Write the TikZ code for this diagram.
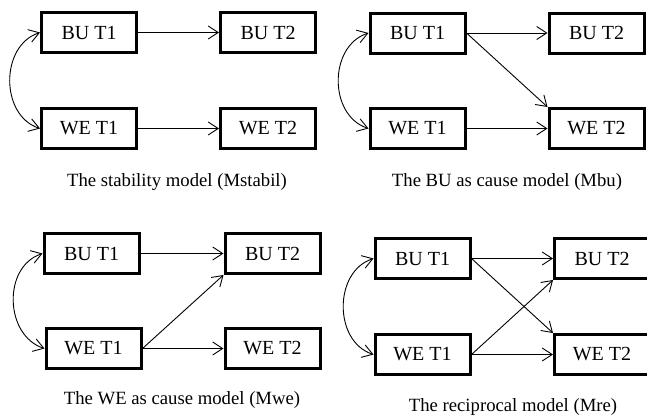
\documentclass[tikz,border=0pt]{standalone}
\usepackage{fontspec}
\setmainfont{Liberation Serif}
\usetikzlibrary{arrows.meta}
\begin{document}
\begin{tikzpicture}[x=1pt,y=-1pt,
  box/.style={draw,line width=3pt,minimum width=95pt,minimum height=40pt,inner sep=0pt,font=\fontsize{20}{22}\selectfont},
  captext/.style={font=\fontsize{18.7}{21}\selectfont,inner sep=0pt},
  arr/.style={line width=0.9pt,-{Straight Barb[length=10pt,width=13pt,line width=0.9pt]}},
  dbl/.style={line width=0.9pt,{Straight Barb[length=10pt,width=13pt,line width=0.9pt]}-{Straight Barb[length=10pt,width=13pt,line width=0.9pt]}}]
\useasboundingbox (0,0) rectangle (647,415);
\clip (0,0) rectangle (647,415);
% Panel 1
\node[box] (a1) at (89,32.5) {BU T1};
\node[box] (a2) at (268,32.5) {BU T2};
\node[box] (a3) at (89,128.5) {WE T1};
\node[box] (a4) at (268,128.5) {WE T2};
\node[captext] (ac) at (177,182) {The stability model (Mstabil)};
\draw[arr] (a1) -- (a2);
\draw[arr] (a3) -- (a4);
\draw[dbl] (a1.west) .. controls +(-40,13) and +(-40,-13) .. (a3.west);
% Panel 2
\node[box] (b1) at (417.5,33) {BU T1};
\node[box] (b2) at (596.5,33) {BU T2};
\node[box] (b3) at (417.5,128.5) {WE T1};
\node[box] (b4) at (596.5,128.5) {WE T2};
\node[captext] (bc) at (507,182) {The BU as cause model (Mbu)};
\draw[arr] (b1) -- (b2);
\draw[arr] (b3) -- (b4);
\draw[arr] (b1.east) -- (b4.north west);
\draw[dbl] (b1.west) .. controls +(-40,13) and +(-40,-13) .. (b3.west);
% Panel 3
\node[box] (c1) at (91.5,253.5) {BU T1};
\node[box] (c2) at (272.5,253.5) {BU T2};
\node[box] (c3) at (93.5,348.5) {WE T1};
\node[box] (c4) at (272.5,348.5) {WE T2};
\node[captext] (cc) at (182,400) {The WE as cause model (Mwe)};
\draw[arr] (c1) -- (c2);
\draw[arr] (c3) -- (c4);
\draw[arr] (c3.east) -- (c2.south west);
\draw[dbl] (c1.west) .. controls +(-40,13) and +(-40,-13) .. (c3.west);
% Panel 4
\node[box] (d1) at (422.5,258.5) {BU T1};
\node[box] (d2) at (602,258.5) {BU T2};
\node[box] (d3) at (422.5,354.5) {WE T1};
\node[box] (d4) at (602,354.5) {WE T2};
\node[captext] (dc) at (513,407) {The reciprocal model (Mre)};
\draw[arr] (d1) -- (d2);
\draw[arr] (d3) -- (d4);
\draw[arr] (d1.east) -- (d4.north west);
\draw[arr] (d3.east) -- (d2.south west);
\draw[dbl] (d1.west) .. controls +(-40,13) and +(-40,-13) .. (d3.west);
\end{tikzpicture}
\end{document}
